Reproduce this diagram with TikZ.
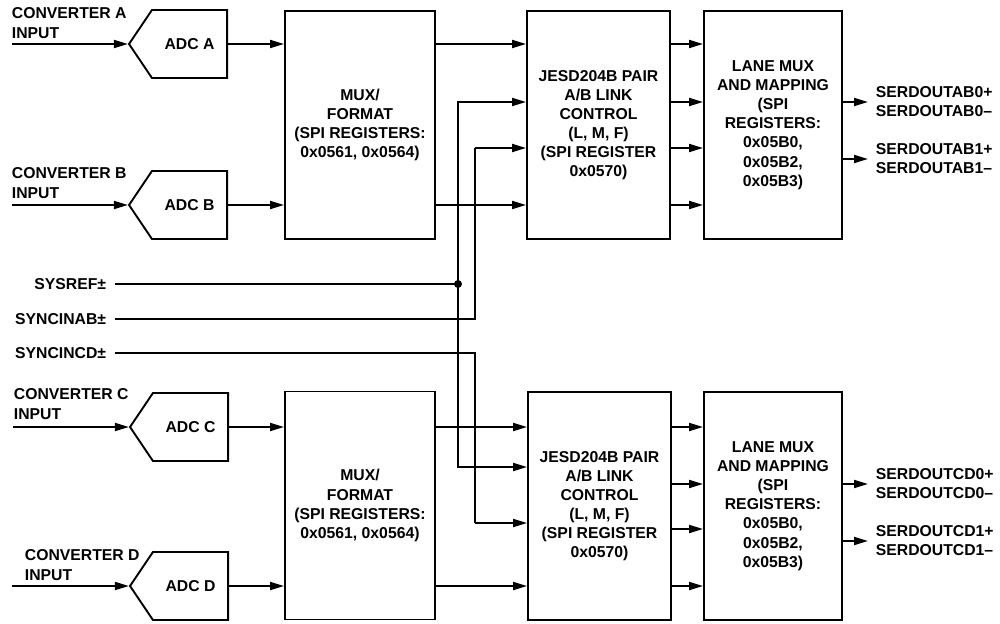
\documentclass[tikz,border=0pt]{standalone}
\usepackage{fontspec}
\setmainfont{Liberation Sans}
\usepackage{tikz}
\usetikzlibrary{shapes.symbols,arrows.meta,positioning}

\begin{document}
\begin{tikzpicture}[x=0.025cm,y=-0.025cm,line width=1.35pt,
          every node/.style={font=\fontsize{11.2}{13.6}\selectfont\bfseries},
          adc/.style={draw,signal,signal to=west,signal pointer angle=112,
            minimum width=2.45cm,minimum height=1.7cm,inner sep=0,anchor=east},
          block/.style={draw,align=center,minimum height=5.7cm,inner sep=2pt},
          lbl/.style={anchor=north west,align=left,inner sep=0},
          siglbl/.style={anchor=east,inner xsep=0.2cm},
          outlbl/.style={anchor=west,align=left,inner xsep=0.175cm,inner ysep=0},
          dot/.style={circle,fill,inner sep=0,minimum size=0.2cm},
          sig/.style={-{Triangle[length=3.5mm,width=2mm]}}]
          \useasboundingbox (0,0) rectangle (1000,624);
          % converters and ADCs
          \node[lbl] (lbla) at (11,7)   {CONVERTER A\\INPUT};
          \node[lbl] (lblb) at (11,167) {CONVERTER B\\INPUT};
          \node[lbl] (lblc) at (13,388) {CONVERTER C\\INPUT};
          \node[lbl] (lbld) at (24,549) {CONVERTER D\\INPUT};
          \coordinate (ina) at (12,44);
          \coordinate (inb) at (12,205);
          \coordinate (inc) at (13,427);
          \coordinate (ind) at (12,586);
          \node[adc] (adca) at (228,44)  {ADC A};
          \node[adc] (adcb) at (228,205) {ADC B};
          \node[adc] (adcc) at (229,427) {ADC C};
          \node[adc] (adcd) at (229,586) {ADC D};
          % blocks
          \node[block,minimum width=3.75cm] (muxab) at (360,125)
            {MUX/\\FORMAT\\(SPI REGISTERS:\\0x0561, 0x0564)};
          \node[block,minimum width=3.575cm] (jesdab) at (598.5,125)
            {JESD204B PAIR\\A/B LINK\\CONTROL\\(L, M, F)\\(SPI REGISTER\\0x0570)};
          \node[block,minimum width=3.45cm] (laneab) at (773,125)
            {LANE MUX\\AND MAPPING\\(SPI\\REGISTERS:\\0x05B0,\\0x05B2,\\0x05B3)};
          \node[block,minimum width=3.75cm] (muxcd) at (360,505.5)
            {MUX/\\FORMAT\\(SPI REGISTERS:\\0x0561, 0x0564)};
          \node[block,minimum width=3.575cm] (jesdcd) at (599.5,506)
            {JESD204B PAIR\\A/B LINK\\CONTROL\\(L, M, F)\\(SPI REGISTER\\0x0570)};
          \node[block,minimum width=3.45cm] (lanecd) at (773,506)
            {LANE MUX\\AND MAPPING\\(SPI\\REGISTERS:\\0x05B0,\\0x05B2,\\0x05B3)};
          % sync signals
          \node[siglbl] (sysref) at (115,284) {SYSREF±};
          \node[siglbl] (syncab) at (115,319) {SYNCINAB±};
          \node[siglbl] (synccd) at (115,353) {SYNCINCD±};
          \node[dot] (jct) at (458,284) {};
          \coordinate (bendab) at (475,148);
          \coordinate (bendcd) at (475,523);
          % outputs
          \node[outlbl] (outab0) at (868,102) {SERDOUTAB0+\\SERDOUTAB0–};
          \node[outlbl] (outab1) at (868,159) {SERDOUTAB1+\\SERDOUTAB1–};
          \node[outlbl] (outcd0) at (868,484) {SERDOUTCD0+\\SERDOUTCD0–};
          \node[outlbl] (outcd1) at (868,541) {SERDOUTCD1+\\SERDOUTCD1–};
          % connections
          \draw[sig] (ina) -- (adca.west);
          \draw[sig] (inb) -- (adcb.west);
          \draw[sig] (inc) -- (adcc.west);
          \draw[sig] (ind) -- (adcd.west);
          \draw[sig] (adca.east) -- (muxab.west |- adca.east);
          \draw[sig] (adcb.east) -- (muxab.west |- adcb.east);
          \draw[sig] (adcc.east) -- (muxcd.west |- adcc.east);
          \draw[sig] (adcd.east) -- (muxcd.west |- adcd.east);
          \draw[sig] (muxab.east |- adca.east) -- (jesdab.west |- adca.east);
          \draw[sig] (muxab.east |- adcb.east) -- (jesdab.west |- adcb.east);
          \draw[sig] (muxcd.east |- adcc.east) -- (jesdcd.west |- adcc.east);
          \draw[sig] (muxcd.east |- adcd.east) -- (jesdcd.west |- adcd.east);
          \draw (sysref.east) -- (jct.center);
          \draw[sig] (jct.center) |- (jesdab.west |- 0,102);
          \draw[sig] (jct.center) |- (jesdcd.west |- 0,467);
          \draw (syncab.east) -| (bendab);
          \draw[sig] (bendab) -- (jesdab.west |- bendab);
          \draw (synccd.east) -| (bendcd);
          \draw[sig] (bendcd) -- (jesdcd.west |- bendcd);
          \foreach \y in {44,102,148,205}
            \draw[sig] (jesdab.east |- 0,\y) -- (laneab.west |- 0,\y);
          \foreach \y in {427,484,529,586}
            \draw[sig] (jesdcd.east |- 0,\y) -- (lanecd.west |- 0,\y);
          \foreach \o/\l in {outab0/laneab,outab1/laneab,outcd0/lanecd,outcd1/lanecd}
            \draw[sig] (\l.east |- \o.west) -- (\o.west);
        \end{tikzpicture}
\end{document}
